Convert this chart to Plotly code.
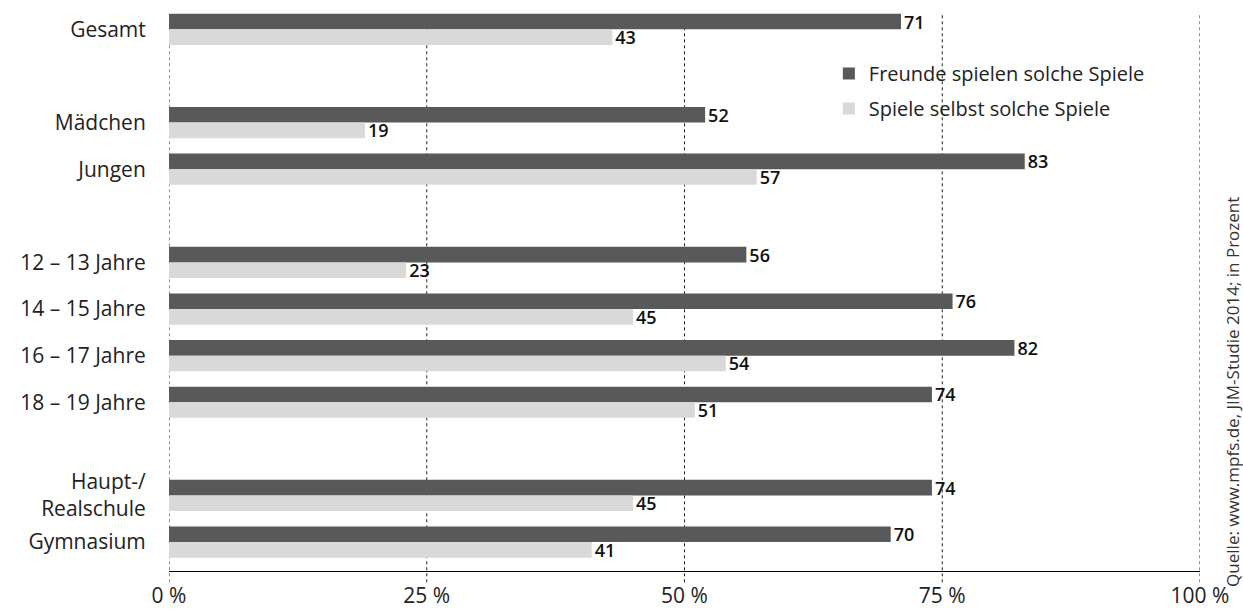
import plotly.graph_objects as go

categories = ["Gesamt", " ", "Mädchen", "Jungen", "  ", "12 – 13 Jahre", "14 – 15 Jahre",
              "16 – 17 Jahre", "18 – 19 Jahre", "   ", "Haupt-/<br>Realschule", "Gymnasium"]
freunde = [71, None, 52, 83, None, 56, 76, 82, 74, None, 74, 70]
selbst = [43, None, 19, 57, None, 23, 45, 54, 51, None, 45, 41]
tick_vals = [0, 25, 50, 75, 100]
tick_text = ["0 %", "25 %", "50 %", "75 %", "100 %"]

DARK = "#595959"
LIGHT = "#d9d9d9"
FONT = "Open Sans"

def labels(vals):
    return ["" if v is None else str(v) for v in vals]

fig = go.Figure()
fig.add_trace(go.Bar(
    y=categories, x=freunde, orientation="h", name="Freunde spielen solche Spiele",
    legendgroup="a",
    marker=dict(color=DARK, line=dict(width=0)),
    text=labels(freunde), textposition="outside", cliponaxis=False, constraintext="none",
    textfont=dict(family=FONT, size=18, color="#111111", weight=600),
))
fig.add_trace(go.Bar(
    y=categories, x=selbst, orientation="h", name="Spiele selbst solche Spiele",
    legendgroup="b",
    marker=dict(color=LIGHT, line=dict(width=0)),
    text=labels(selbst), textposition="outside", cliponaxis=False, constraintext="none",
    textfont=dict(family=FONT, size=18, color="#111111", weight=600),
))

for v in tick_vals:
    fig.add_shape(type="line", xref="x", yref="paper", x0=v, x1=v, y0=-0.02, y1=0.988,
                  line=dict(color="#222222", width=1, dash="dot"), layer="below")

fig.update_layout(
    width=1243, height=609,
    margin=dict(l=169, r=43, t=6, b=38),
    paper_bgcolor="white", plot_bgcolor="white",
    barmode="group", bargap=0.33, bargroupgap=0,
    font=dict(family=FONT, size=20, color="#222222"),
    showlegend=True,
    legend=dict(x=0.64, y=0.915, xanchor="left", yanchor="top",
                font=dict(family=FONT, size=20, color="#222222"),
                bgcolor="rgba(0,0,0,0)", itemwidth=30, tracegroupgap=6),
    xaxis=dict(range=[0, 100], tickvals=tick_vals, ticktext=tick_text, automargin=False,
               showgrid=False, zeroline=False, showline=True, linecolor="black", linewidth=1,
               ticks="outside", ticklen=6, tickcolor="rgba(0,0,0,0)",
               tickfont=dict(family=FONT, size=21, color="#222222")),
    yaxis=dict(type="category", categoryorder="array", categoryarray=categories, automargin=False,
               range=[11.62, -0.5], showgrid=False, zeroline=False, showline=False,
               ticks="outside", ticklen=18, tickcolor="rgba(0,0,0,0)",
               tickfont=dict(family=FONT, size=21, color="#222222")),
)

fig.add_annotation(text="Quelle: www.mpfs.de, JIM-Studie 2014; in Prozent",
                   xref="paper", yref="paper", x=1.0, xshift=33, y=0.317, yanchor="middle",
                   xanchor="center", textangle=-90, showarrow=False,
                   font=dict(family=FONT, size=17, color="#333333"))

fig.write_html("out.html")
